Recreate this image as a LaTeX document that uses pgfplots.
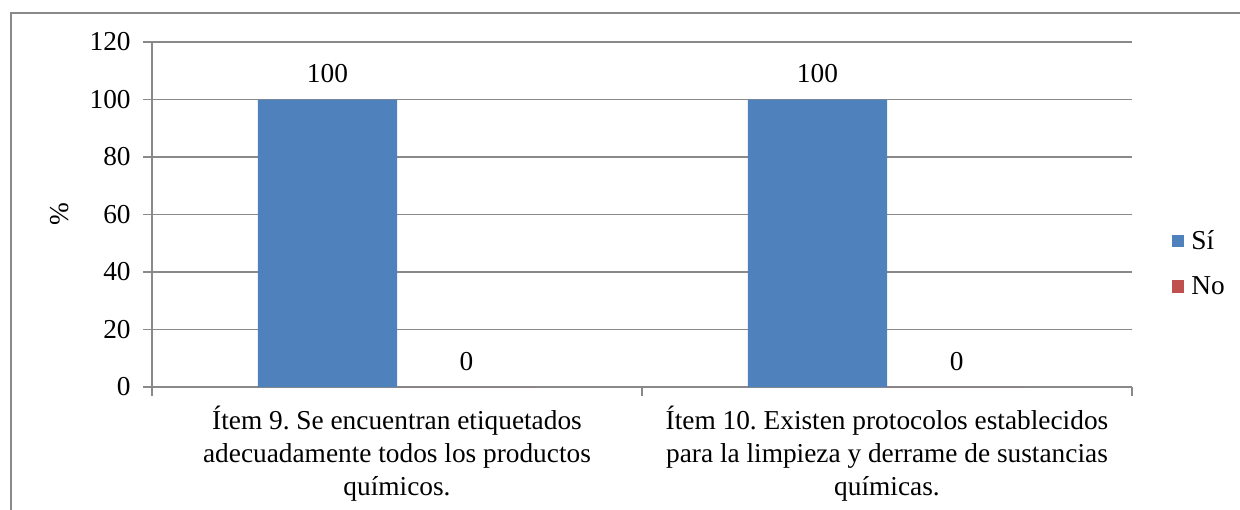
\documentclass[border=0pt]{standalone}
\usepackage{fontspec}
\setmainfont{Liberation Serif}
\usepackage{pgfplots}
\pgfplotsset{compat=1.18}
\definecolor{sib}{HTML}{4F81BD}
\definecolor{nor}{HTML}{C0504D}
\definecolor{gl}{HTML}{898989}
\newcommand{\cf}{\fontsize{20.5}{25}\selectfont}
\frenchspacing
\begin{document}
\begin{tikzpicture}
\useasboundingbox (0,0) rectangle (930pt,-382.5pt);
\draw[gl, line width=1.2pt] (8.25pt,-420pt) -- (8.25pt,-9.75pt) -- (960pt,-9.75pt);
\begin{axis}[
  at={(114pt,-290.25pt)}, anchor=south west,
  scale only axis, width=735pt, height=258.75pt,
  ybar,
  xmin=-0.5, xmax=1.5, ymin=0, ymax=120, ytick={0,20,...,120},
  axis x line=bottom, axis y line=left,
  axis line style={gl, line width=1pt, -},
  ymajorgrids, grid style={gl, line width=1pt},
  tick align=outside, major tick length=6.5pt,
  tick style={gl, line width=1pt},
  xtick={-0.5,0.5,1.5}, xticklabels={},
  extra x ticks={0,1},
  extra x tick labels={{Ítem 9. Se encuentran etiquetados\\adecuadamente todos los productos\\químicos.},{Ítem 10. Existen protocolos establecidos\\para la limpieza y derrame de sustancias\\químicas.}},
  extra x tick style={major tick length=0pt},
  xticklabel style={align=center, font=\cf, yshift=-10.5pt},
  yticklabel style={font=\cf, xshift=-6pt},
  /pgf/number format/assume math mode=true,
  ylabel={\%},
  every axis y label/.style={at={(rel axis cs:0,0.5)}, xshift=-69pt, rotate=90, anchor=center, font=\cf},
  nodes near coords,
  every node near coord/.append style={font=\cf, text=black, yshift=9pt},
  legend style={at={(1.036,0.357)}, anchor=west, draw=none, fill=none, font=\cf, row sep=15pt},
  legend cell align=left,
  legend image code/.code={\fill[#1] (0pt,-4.5pt) rectangle (9.5pt,5pt);},
]
\addplot[fill=sib, draw=none, bar shift=-0.142, bar width=0.284] coordinates {(0,100) (1,100)};
\addplot[fill=nor, draw=none, bar shift=0.142, bar width=0.284] coordinates {(0,0) (1,0)};
\legend{\,Sí, \,No}
\end{axis}
\end{tikzpicture}
\end{document}
